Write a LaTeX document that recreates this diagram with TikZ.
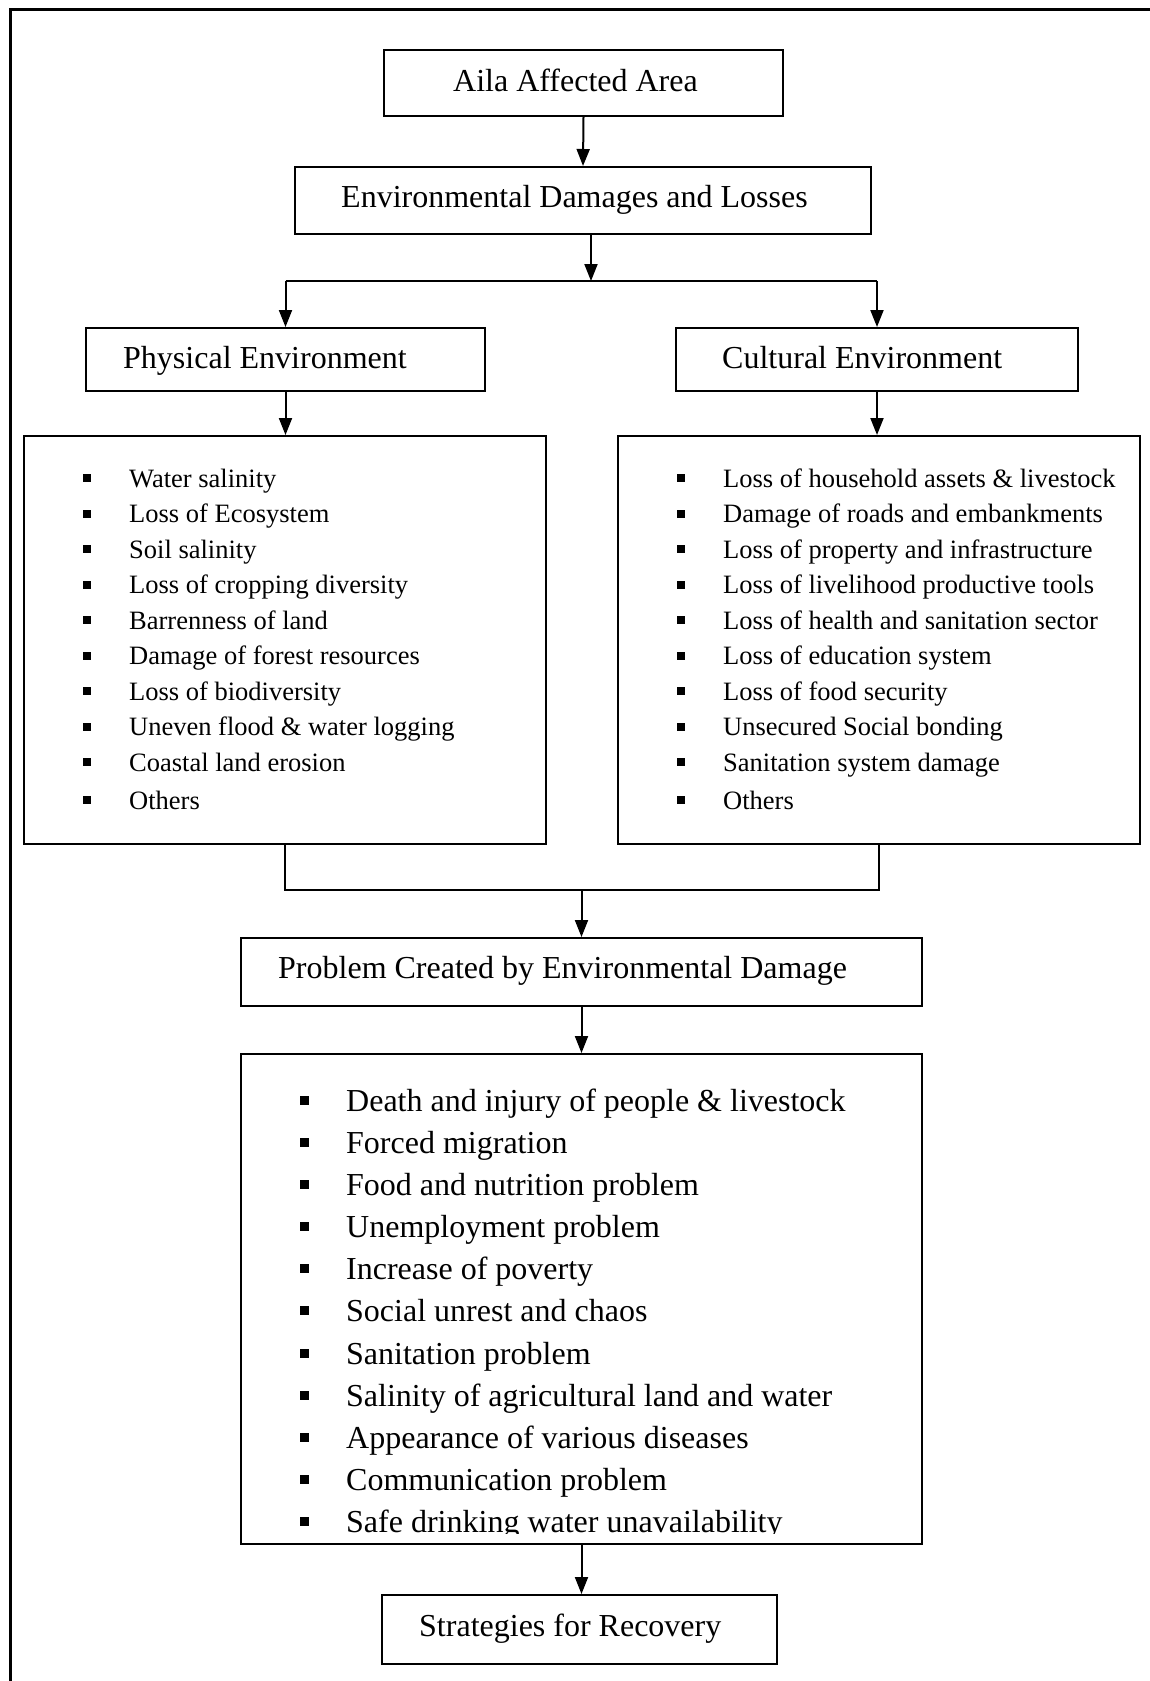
\documentclass[tikz,border=0pt]{standalone}
\usepackage{fontspec}
\setmainfont{Liberation Serif}
\usetikzlibrary{arrows.meta}

\newcommand{\sq}{\makebox[46pt][l]{\rule[5pt]{8pt}{8pt}}}
\newcommand{\bigsq}{\makebox[46pt][l]{\rule[6.5pt]{9pt}{9pt}}}

\begin{document}
\begin{tikzpicture}[x=1pt,y=-1pt,
  box/.style={draw,line width=2pt,inner sep=0pt},
  ttl/.style={anchor=base west,inner sep=0pt,font=\fontsize{32}{36}\selectfont},
  itm/.style={anchor=base west,inner sep=0pt,font=\fontsize{26.5}{30}\selectfont},
  pitm/.style={anchor=base west,inner sep=0pt,font=\fontsize{32}{36}\selectfont},
  arr/.style={line width=2pt,-{Triangle[length=17pt,width=13pt]}}]
\useasboundingbox (0,0) rectangle (1150,1681);
\draw[line width=3pt] (1150,9) -- (10,9) -- (10,1681);

% boxes
\node[box,minimum width=399pt,minimum height=66pt] (aila) at (583.5,83) {};
\node[box,minimum width=576pt,minimum height=67pt] (env) at (583,200.5) {};
\node[box,minimum width=399pt,minimum height=63pt] (phys) at (285.5,359.5) {};
\node[box,minimum width=402pt,minimum height=63pt] (cult) at (877,359.5) {};
\node[box,minimum width=522pt,minimum height=408pt] (plist) at (285,640) {};
\node[box,minimum width=522pt,minimum height=408pt] (clist) at (879,640) {};
\node[box,minimum width=681pt,minimum height=68pt] (prob) at (581.5,972) {};
\node[box,minimum width=681pt,minimum height=490pt] (problist) at (581.5,1299) {};
\node[box,minimum width=395pt,minimum height=69pt] (strat) at (579.5,1629.5) {};

% titles
\node[ttl] (ailatxt) at (453,91) {Aila Affected Area};
\node[ttl] (envtxt) at (341,207) {Environmental Damages and Losses};
\node[ttl] (phystxt) at (123,368) {Physical Environment};
\node[ttl] (culttxt) at (722,368) {Cultural Environment};
\node[ttl] (probtxt) at (278,978) {Problem Created by Environmental Damage};
\node[ttl] (strattxt) at (419,1636) {Strategies for Recovery};

% physical list
\node[itm] (pe1) at (83,487) {\sq Water salinity};
\node[itm] (pe2) at (83,522.5) {\sq Loss of Ecosystem};
\node[itm] (pe3) at (83,558) {\sq Soil salinity};
\node[itm] (pe4) at (83,593.5) {\sq Loss of cropping diversity};
\node[itm] (pe5) at (83,629) {\sq Barrenness of land};
\node[itm] (pe6) at (83,664.5) {\sq Damage of forest resources};
\node[itm] (pe7) at (83,700) {\sq Loss of biodiversity};
\node[itm] (pe8) at (83,735.5) {\sq Uneven flood \& water logging};
\node[itm] (pe9) at (83,771) {\sq Coastal land erosion};
\node[itm] (pe10) at (83,809) {\sq Others};

% cultural list
\node[itm] (ce1) at (677,487) {\sq Loss of household assets \& livestock};
\node[itm] (ce2) at (677,522.5) {\sq Damage of roads and embankments};
\node[itm] (ce3) at (677,558) {\sq Loss of property and infrastructure};
\node[itm] (ce4) at (677,593.5) {\sq Loss of livelihood productive tools};
\node[itm] (ce5) at (677,629) {\sq Loss of health and sanitation sector};
\node[itm] (ce6) at (677,664.5) {\sq Loss of education system};
\node[itm] (ce7) at (677,700) {\sq Loss of food security};
\node[itm] (ce8) at (677,735.5) {\sq Unsecured Social bonding};
\node[itm] (ce9) at (677,771) {\sq Sanitation system damage};
\node[itm] (ce10) at (677,809) {\sq Others};

% problem list, last line cut by the box
\begin{scope}
\clip (241,1054) rectangle (922,1533);
\node[pitm] (pr1) at (300,1111) {\bigsq Death and injury of people \& livestock};
\node[pitm] (pr2) at (300,1153) {\bigsq Forced migration};
\node[pitm] (pr3) at (300,1195) {\bigsq Food and nutrition problem};
\node[pitm] (pr4) at (300,1237) {\bigsq Unemployment problem};
\node[pitm] (pr5) at (300,1279) {\bigsq Increase of poverty};
\node[pitm] (pr6) at (300,1321) {\bigsq Social unrest and chaos};
\node[pitm] (pr7) at (300,1364) {\bigsq Sanitation problem};
\node[pitm] (pr8) at (300,1406) {\bigsq Salinity of agricultural land and water};
\node[pitm] (pr9) at (300,1448) {\bigsq Appearance of various diseases};
\node[pitm] (pr10) at (300,1490) {\bigsq Communication problem};
\node[pitm] (pr11) at (300,1532) {\bigsq Safe drinking water unavailability};
\end{scope}

% connectors
\coordinate (split) at (591,281);
\coordinate (merge) at (581.5,890);
\draw[arr] (aila.south) -- (env.north);
\draw[arr] (env.south -| split) -- (split);
\draw[line width=2pt] (phys.north |- split) -- (cult.north |- split);
\draw[arr] (phys.north |- split) -- (phys.north);
\draw[arr] (cult.north |- split) -- (cult.north);
\draw[arr] (phys.south) -- (phys.south |- plist.north);
\draw[arr] (cult.south) -- (cult.south |- clist.north);
\draw[line width=2pt] (plist.south) -- (plist.south |- merge) -- (clist.south |- merge) -- (clist.south);
\draw[arr] (merge) -- (prob.north);
\draw[arr] (prob.south) -- (problist.north);
\draw[arr] (problist.south) -- (problist.south |- strat.north);
\end{tikzpicture}
\end{document}
